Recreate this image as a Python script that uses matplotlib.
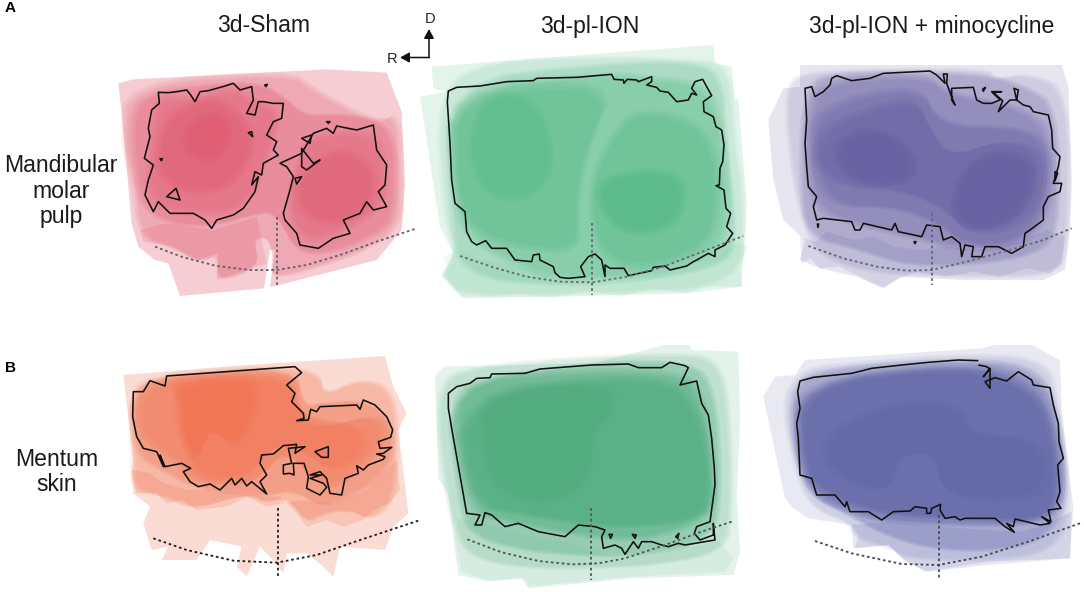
import matplotlib as mpl
import matplotlib.pyplot as plt
import numpy as np
from matplotlib.patches import Polygon

ORIGINS = {"a1": (100, 50), "a2": (420, 30), "a3": (760, 50), "b1": (100, 350), "b2": (425, 345), "b3": (755, 345)}
COLORS = {"a1": "#e0475f", "a2": "#3fb378", "a3": "#5a509a", "b1": "#f26a45", "b2": "#3fa672", "b3": "#545aa2"}
ALPHAS = {
    "a1": [0.27, 0.25, 0.27, 0.27, 0.27, 0.27, 0.27, 0.25],
    "a2": [0.14, 0.14, 0.22, 0.3, 0.3, 0.3, 0.25, 0.35],
    "a3": [0.14, 0.16, 0.25, 0.3, 0.3, 0.3, 0.3, 0.3],
    "b1": [0.23, 0.3, 0.3, 0.3, 0.3, 0.35],
    "b2": [0.14, 0.2, 0.3, 0.4, 0.4, 0.2],
    "b3": [0.13, 0.16, 0.3, 0.45, 0.45, 0.2],
}
MARGIN_ALPHAS = {"a1": 0.16, "a2": 0.08, "a3": 0.12, "b1": 0.2, "b2": 0.08, "b3": 0.14}

COLUMN_TITLES = ["3d-Sham", "3d-pl-ION", "3d-pl-ION + minocycline"]
ROW_LABELS = ["Mandibular\nmolar\npulp", "Mentum\nskin"]
PANEL_LETTERS = ["A", "B"]

LAYERS_A1 = [
    [(55, 100), (100, 88), (680, 58), (860, 68), (905, 185), (915, 400), (905, 540), (830, 630), (510, 712), (525, 600), (510, 600), (492, 715), (240, 738), (205, 640), (165, 630), (115, 590), (95, 520), (65, 190)],
    [(85, 100), (570, 65), (640, 120), (830, 220), (895, 190), (905, 400), (900, 530), (800, 600), (660, 650), (510, 690), (520, 610), (500, 560), (460, 570), (480, 650), (350, 700), (355, 610), (300, 640), (215, 590), (120, 560), (100, 400), (65, 270)],
    [(130, 130), (360, 100), (480, 100), (550, 140), (620, 200), (700, 190), (850, 210), (890, 300), (885, 470), (860, 540), (700, 610), (590, 610), (530, 490), (470, 490), (340, 530), (200, 520), (130, 470), (110, 400), (90, 220)],
    [(170, 140), (290, 150), (400, 110), (470, 160), (540, 180), (520, 270), (490, 350), (460, 440), (390, 490), (280, 490), (190, 480), (140, 420), (150, 280)],
    [(620, 260), (820, 235), (860, 350), (850, 470), (740, 540), (620, 580), (570, 500), (570, 400), (600, 330)],
    [(210, 190), (320, 140), (400, 170), (470, 260), (440, 350), (380, 420), (260, 430), (180, 390), (170, 280)],
    [(630, 350), (720, 290), (810, 340), (830, 420), (790, 490), (680, 530), (600, 480), (590, 410)],
    [(260, 230), (330, 185), (395, 220), (380, 300), (330, 340), (250, 300)],
]
LAYERS_A2 = [
    [(35, 110), (880, 45), (885, 100), (935, 110), (945, 210), (955, 205), (980, 520), (965, 770), (800, 790), (420, 800), (130, 805), (65, 735), (100, 670), (60, 590), (0, 200), (80, 185), (40, 175)],
    [(50, 180), (210, 90), (590, 80), (820, 90), (930, 105), (945, 330), (975, 520), (965, 770), (540, 790), (130, 800), (65, 740), (110, 670), (70, 560)],
    [(75, 155), (560, 100), (800, 95), (905, 130), (920, 320), (950, 600), (930, 700), (700, 750), (430, 770), (120, 740), (90, 540)],
    [(85, 175), (570, 130), (700, 145), (860, 160), (910, 300), (930, 580), (880, 680), (650, 740), (420, 750), (270, 700), (140, 620), (100, 500)],
    [(100, 190), (590, 150), (500, 360), (470, 530), (480, 670), (270, 650), (140, 590), (100, 450)],
    [(650, 230), (880, 290), (900, 560), (840, 670), (620, 725), (520, 640), (510, 470), (560, 340)],
    [(140, 350), (200, 190), (330, 200), (390, 300), (400, 430), (310, 520), (190, 490)],
    [(530, 450), (680, 415), (800, 440), (780, 590), (620, 620), (540, 540)],
]
LAYERS_A3 = [
    [(120, 45), (905, 45), (925, 110), (935, 400), (930, 540), (915, 660), (850, 690), (600, 690), (420, 680), (370, 715), (290, 680), (180, 655), (120, 630), (135, 570), (70, 510), (40, 390), (25, 210), (70, 115), (120, 110)],
    [(130, 60), (690, 55), (700, 90), (800, 70), (930, 120), (925, 600), (880, 680), (600, 680), (340, 670), (180, 620), (130, 530), (90, 330), (75, 120)],
    [(130, 110), (230, 65), (660, 70), (800, 110), (890, 170), (900, 500), (860, 600), (700, 640), (450, 650), (300, 600), (140, 560), (120, 400)],
    [(150, 150), (220, 90), (500, 75), (560, 130), (780, 170), (870, 240), (880, 450), (800, 590), (600, 600), (450, 560), (280, 520), (170, 480), (140, 350)],
    [(170, 170), (480, 100), (540, 230), (770, 230), (870, 280), (860, 470), (780, 580), (620, 590), (540, 520), (400, 470), (210, 470), (150, 320)],
    [(190, 240), (290, 190), (470, 140), (520, 260), (580, 320), (720, 270), (850, 300), (840, 460), (750, 540), (620, 550), (550, 470), (420, 420), (250, 410), (160, 340)],
    [(220, 280), (330, 230), (450, 290), (470, 380), (380, 410), (250, 380)],
    [(570, 460), (620, 340), (730, 300), (830, 340), (800, 470), (720, 530), (620, 540)],
]
LAYERS_B1 = [
    [(70, 75), (440, 45), (855, 18), (880, 110), (920, 190), (895, 240), (925, 490), (880, 530), (855, 600), (720, 590), (700, 680), (670, 650), (620, 610), (560, 610), (550, 670), (510, 620), (480, 590), (440, 680), (410, 650), (425, 590), (330, 570), (290, 630), (185, 630), (205, 590), (155, 600), (130, 520), (150, 470), (100, 430), (95, 370), (100, 330)],
    [(90, 85), (440, 50), (660, 60), (670, 140), (780, 85), (885, 120), (895, 330), (870, 470), (810, 510), (750, 480), (670, 490), (620, 520), (560, 440), (500, 460), (440, 430), (280, 480), (200, 440), (100, 420), (100, 340)],
    [(95, 105), (200, 80), (590, 50), (610, 170), (660, 160), (800, 150), (880, 220), (880, 330), (820, 400), (730, 450), (660, 470), (580, 420), (500, 440), (300, 420), (200, 370), (100, 310)],
    [(100, 140), (200, 85), (580, 55), (600, 190), (650, 240), (830, 190), (870, 260), (800, 340), (700, 420), (640, 390), (560, 300), (480, 380), (440, 400), (290, 400), (240, 340), (120, 270)],
    [(240, 100), (470, 80), (580, 100), (590, 200), (800, 230), (790, 320), (700, 370), (620, 310), (540, 280), (480, 330), (440, 380), (300, 390), (250, 280), (230, 200)],
    [(200, 85), (470, 75), (470, 170), (440, 250), (400, 290), (330, 230), (290, 340), (250, 280), (240, 160)],
]
LAYERS_B2 = [
    [(55, 65), (500, 55), (720, 0), (795, 0), (800, 15), (940, 20), (945, 230), (935, 450), (945, 620), (925, 690), (620, 700), (310, 730), (290, 700), (190, 710), (100, 690), (85, 580), (70, 450), (40, 400), (30, 95)],
    [(30, 140), (120, 60), (790, 20), (890, 60), (915, 230), (920, 500), (900, 620), (700, 660), (500, 670), (300, 670), (140, 640), (90, 560), (60, 430)],
    [(60, 120), (500, 50), (800, 50), (870, 130), (890, 400), (870, 590), (600, 640), (300, 620), (130, 570), (100, 450)],
    [(75, 150), (200, 90), (770, 70), (840, 170), (870, 400), (860, 520), (650, 590), (450, 570), (250, 530), (130, 500)],
    [(90, 150), (700, 80), (830, 200), (860, 450), (820, 530), (550, 550), (300, 510), (140, 480)],
    [(160, 130), (560, 110), (570, 210), (500, 260), (500, 420), (350, 490), (200, 430), (170, 300)],
]
LAYERS_B3 = [
    [(25, 155), (60, 95), (120, 90), (150, 45), (680, 10), (720, 0), (830, 0), (915, 45), (920, 200), (955, 490), (945, 640), (700, 660), (520, 680), (450, 650), (400, 600), (295, 610), (290, 540), (160, 520), (115, 490), (90, 460)],
    [(80, 170), (130, 90), (200, 60), (680, 25), (880, 50), (910, 180), (950, 480), (900, 620), (680, 650), (450, 640), (410, 610), (300, 580), (280, 530), (190, 500), (130, 420)],
    [(110, 130), (200, 70), (650, 40), (860, 70), (920, 240), (940, 480), (860, 590), (700, 620), (520, 610), (390, 570), (280, 510), (160, 450), (110, 300)],
    [(130, 110), (640, 50), (840, 100), (900, 220), (930, 460), (850, 540), (600, 540), (390, 530), (280, 500), (170, 450), (125, 300)],
    [(135, 120), (620, 60), (830, 130), (895, 250), (915, 470), (850, 530), (640, 520), (380, 510), (190, 440), (135, 350)],
    [(240, 250), (420, 170), (620, 180), (640, 270), (860, 280), (880, 450), (700, 470), (560, 440), (540, 320), (430, 330), (400, 450), (260, 400), (200, 330)],
]
LAYERS = {"a1": LAYERS_A1, "a2": LAYERS_A2, "a3": LAYERS_A3, "b1": LAYERS_B1, "b2": LAYERS_B2, "b3": LAYERS_B3}

# blotchy stains along the lower margin of each panel
MARGINS = {
    "a1": [(120, 540), (200, 520), (340, 540), (470, 500), (500, 640), (350, 690), (355, 610), (290, 630), (215, 590), (130, 575)],
    "a2": [(70, 680), (110, 660), (180, 690), (260, 700), (360, 730), (450, 760), (560, 760), (700, 730), (850, 680), (960, 640), (985, 650), (960, 700), (965, 770), (860, 770), (790, 790), (700, 775), (600, 800), (500, 780), (400, 805), (300, 790), (200, 800), (120, 800), (90, 760), (65, 740), (85, 710)],
    "a3": [(120, 560), (165, 575), (200, 545), (280, 570), (340, 560), (400, 590), (480, 600), (560, 590), (650, 600), (760, 580), (860, 540), (915, 560), (905, 640), (870, 670), (800, 655), (720, 680), (640, 665), (560, 680), (470, 665), (420, 685), (370, 712), (340, 700), (300, 680), (240, 650), (180, 655), (150, 625), (125, 640)],
    "b1": [(95, 360), (150, 370), (190, 400), (260, 420), (330, 420), (420, 430), (500, 440), (540, 440), (590, 490), (620, 530), (680, 510), (730, 530), (790, 510), (810, 490), (840, 470), (870, 460), (900, 420), (890, 330), (800, 420), (700, 460), (600, 450), (500, 470), (440, 440), (380, 470), (290, 480), (250, 450), (200, 460), (170, 430), (110, 430)],
    "b2": [(100, 520), (200, 540), (300, 570), (420, 590), (560, 630), (720, 620), (880, 590), (925, 640), (900, 680), (620, 695), (310, 725), (300, 700), (190, 705), (110, 680), (90, 580)],
    "b3": [(290, 540), (400, 530), (500, 540), (620, 550), (800, 560), (870, 540), (950, 500), (945, 640), (700, 650), (510, 680), (450, 645), (400, 600), (300, 610), (310, 570)],
}

# closed outlines, small ones are the specks next to the main contour
OUTLINES_A1 = [
    [(175, 127), (205, 128), (230, 125), (260, 120), (272, 135), (285, 155), (300, 125), (325, 122), (350, 115), (375, 108), (400, 100), (420, 120), (455, 110), (460, 150), (440, 190), (465, 195), (475, 155), (490, 155), (520, 160), (550, 160), (545, 205), (520, 215), (500, 255), (530, 275), (520, 300), (535, 315), (490, 340), (485, 375), (465, 365), (455, 405), (475, 380), (465, 425), (430, 475), (400, 495), (350, 510), (335, 535), (315, 510), (280, 490), (210, 490), (175, 455), (160, 485), (135, 435), (145, 390), (160, 345), (133, 325), (150, 260), (145, 235), (155, 180), (178, 160)],
    [(540, 340), (605, 310), (640, 250), (680, 235), (700, 250), (710, 228), (770, 240), (820, 225), (830, 300), (860, 345), (855, 405), (835, 425), (860, 470), (820, 480), (800, 455), (780, 490), (730, 510), (750, 550), (700, 565), (655, 595), (600, 585), (590, 550), (555, 510), (550, 490), (570, 420), (580, 380), (560, 350)],
    [(200, 440), (228, 415), (240, 450)],
    [(605, 295), (640, 340), (660, 330), (620, 360), (605, 350)],
    [(585, 385), (605, 380), (590, 402)],
    [(605, 265), (635, 255), (630, 280)],
    [(445, 248), (455, 245), (458, 260)],
    [(180, 326), (187, 326), (184, 332)],
    [(494, 105), (502, 103), (498, 110)],
    [(680, 215), (690, 215), (685, 220)],
]
OUTLINES_A2 = [
    [(85, 183), (110, 172), (180, 168), (260, 155), (340, 152), (350, 145), (470, 142), (575, 133), (582, 148), (610, 150), (612, 160), (622, 148), (650, 150), (655, 155), (695, 140), (695, 155), (680, 165), (710, 172), (720, 183), (745, 187), (770, 215), (805, 210), (815, 190), (830, 195), (815, 175), (825, 155), (848, 148), (875, 197), (850, 215), (852, 245), (880, 260), (888, 290), (905, 300), (912, 345), (908, 395), (900, 415), (898, 465), (888, 467), (912, 480), (918, 535), (932, 550), (920, 590), (938, 610), (915, 645), (885, 660), (885, 680), (865, 670), (830, 690), (820, 695), (800, 708), (750, 720), (735, 708), (700, 712), (695, 722), (625, 737), (612, 715), (570, 715), (555, 705), (555, 740), (545, 690), (525, 672), (505, 680), (482, 710), (495, 740), (445, 745), (420, 742), (405, 728), (400, 710), (360, 690), (358, 672), (340, 675), (335, 695), (285, 690), (260, 655), (215, 655), (197, 632), (170, 645), (155, 635), (140, 605), (135, 545), (105, 520), (95, 450), (90, 340), (82, 215)],
]
OUTLINES_A3 = [
    [(135, 115), (155, 110), (165, 140), (190, 125), (210, 105), (215, 85), (230, 77), (275, 92), (330, 85), (370, 70), (510, 63), (530, 75), (555, 100), (550, 72), (562, 72), (560, 100), (575, 140), (585, 165), (575, 150), (575, 115), (640, 112), (650, 150), (670, 160), (695, 160), (720, 150), (695, 125), (725, 125), (700, 128), (728, 152), (715, 185), (750, 150), (770, 150), (762, 115), (775, 120), (770, 150), (790, 165), (810, 170), (820, 185), (865, 195), (875, 240), (878, 295), (900, 320), (895, 350), (880, 400), (905, 400), (900, 425), (865, 440), (850, 470), (850, 510), (810, 540), (795, 550), (790, 590), (755, 610), (715, 590), (675, 590), (665, 620), (635, 620), (640, 590), (615, 585), (605, 620), (600, 580), (575, 560), (550, 570), (540, 530), (500, 525), (485, 560), (415, 545), (405, 520), (395, 540), (310, 520), (300, 540), (285, 540), (275, 515), (190, 505), (170, 510), (160, 470), (170, 440), (145, 410), (140, 350), (135, 280), (140, 210)],
    [(885, 365), (893, 370), (885, 392)],
    [(462, 575), (468, 575), (465, 581)],
    [(172, 522), (176, 522), (174, 532)],
    [(668, 118), (676, 112), (670, 124)],
]
OUTLINES_B1 = [
    [(100, 125), (130, 125), (150, 92), (195, 108), (200, 78), (585, 50), (605, 68), (560, 105), (585, 130), (575, 155), (610, 190), (612, 205), (590, 212), (625, 210), (632, 178), (650, 185), (660, 170), (770, 165), (780, 178), (790, 150), (825, 165), (860, 200), (878, 240), (872, 262), (835, 275), (840, 295), (875, 292), (850, 310), (830, 312), (855, 320), (850, 328), (805, 345), (790, 360), (770, 347), (775, 370), (735, 385), (725, 435), (690, 430), (680, 385), (660, 365), (630, 375), (665, 375), (630, 385), (670, 400), (680, 412), (660, 435), (620, 415), (625, 380), (612, 340), (580, 340), (582, 375), (570, 370), (550, 372), (550, 345), (575, 340), (565, 295), (615, 290), (585, 310), (590, 283), (550, 287), (520, 312), (485, 315), (480, 340), (500, 375), (480, 395), (500, 432), (455, 395), (440, 408), (425, 385), (405, 405), (395, 385), (360, 420), (330, 402), (295, 410), (270, 395), (250, 365), (272, 355), (245, 340), (195, 350), (180, 315), (190, 350), (170, 305), (130, 295), (110, 260), (98, 200)],
    [(645, 305), (685, 290), (685, 322), (665, 322)],
]
OUTLINES_B2 = [
    [(70, 145), (95, 125), (135, 115), (155, 100), (195, 98), (200, 87), (300, 85), (345, 72), (500, 60), (610, 57), (640, 68), (710, 68), (735, 52), (780, 62), (790, 68), (765, 120), (815, 108), (830, 175), (850, 210), (860, 280), (868, 370), (870, 420), (855, 530), (815, 545), (808, 565), (825, 585), (865, 570), (865, 535), (870, 585), (780, 600), (760, 595), (730, 605), (710, 600), (680, 590), (650, 590), (640, 610), (625, 590), (600, 628), (590, 610), (570, 600), (535, 610), (530, 575), (540, 555), (510, 545), (460, 540), (420, 575), (340, 560), (280, 535), (240, 545), (200, 510), (180, 503), (170, 540), (150, 540), (165, 510), (125, 505), (118, 465), (80, 250), (70, 190)],
    [(552, 568), (562, 568), (557, 580)],
    [(752, 575), (762, 565), (758, 580)],
    [(622, 568), (634, 570), (630, 580)],
]
# B3 has a gap in the top edge, so it stays an open line
OUTLINES_B3 = [
    [(670, 60), (695, 65), (705, 72), (685, 95), (705, 70), (705, 130), (690, 110), (720, 98), (755, 108), (790, 80), (830, 105), (835, 120), (885, 128), (895, 180), (910, 235), (912, 290), (925, 340), (908, 360), (915, 440), (905, 470), (918, 490), (880, 495), (888, 530), (860, 515), (885, 535), (855, 540), (780, 522), (775, 545), (755, 535), (778, 562), (750, 545), (720, 520), (630, 520), (615, 525), (600, 515), (570, 520), (555, 495), (557, 478), (530, 490), (527, 505), (515, 505), (515, 490), (480, 485), (465, 498), (415, 500), (380, 525), (340, 500), (285, 500), (275, 470), (270, 485), (240, 450), (185, 450), (170, 400), (135, 390), (130, 280), (125, 235), (135, 190), (128, 140), (135, 108), (175, 97), (290, 85), (350, 70), (440, 60), (520, 52), (610, 45), (670, 47)],
]
OUTLINES = {"a1": OUTLINES_A1, "a2": OUTLINES_A2, "a3": OUTLINES_A3, "b1": OUTLINES_B1, "b2": OUTLINES_B2, "b3": OUTLINES_B3}

ARC_A1 = [(165, 590), (250, 622), (350, 648), (450, 660), (530, 660), (620, 645), (720, 615), (830, 575), (950, 535)]
ARC_A2 = [(120, 678), (220, 712), (320, 740), (420, 755), (520, 757), (620, 740), (730, 710), (860, 660), (970, 618)]
ARC_A3 = [(145, 588), (250, 625), (350, 650), (440, 662), (515, 660), (620, 635), (750, 600), (850, 570), (935, 535)]
ARC_B1 = [(160, 565), (260, 600), (400, 632), (530, 638), (650, 615), (780, 570), (955, 512)]
ARC_B2 = [(127, 583), (230, 622), (340, 648), (440, 658), (520, 655), (600, 640), (720, 600), (830, 560), (920, 530)]
ARC_B3 = [(180, 588), (290, 625), (440, 657), (550, 660), (680, 635), (820, 590), (975, 535)]
ARCS = {"a1": ARC_A1, "a2": ARC_A2, "a3": ARC_A3, "b1": ARC_B1, "b2": ARC_B2, "b3": ARC_B3}
MIDLINES = {
    "a1": [(532, 500), (532, 710)],
    "a2": [(517, 580), (517, 795)],
    "a3": [(516, 490), (516, 705)],
    "b1": [(533, 475), (533, 685)],
    "b2": [(498, 490), (498, 705)],
    "b3": [(551, 510), (551, 705)],
}
ARC_COLORS = {"a1": "#66626a", "a2": "#666c70", "a3": "#66667a", "b1": "#222222", "b2": "#4e5a58", "b3": "#4a4a55"}


def to_px(key, points):
    ox, oy = ORIGINS[key]
    return np.asarray(points, dtype=float) / 3 + (ox, oy)


def round_corners(xy, passes=2):
    # corner cutting, the stains have no sharp corners
    for _ in range(passes):
        nxt = np.roll(xy, -1, axis=0)
        xy = np.stack([0.75 * xy + 0.25 * nxt, 0.25 * xy + 0.75 * nxt], axis=1).reshape(-1, 2)
    return xy


def draw_layer(ax, xy, color, alpha, step_px, steps=4):
    # soft edge: copies around the traced size that share the layer's alpha
    centre = xy.mean(axis=0)
    radius = np.linalg.norm(xy - centre, axis=1).mean()
    part = 1 - (1 - alpha) ** (1 / steps)
    for k in range(steps):
        scale = 1 + ((steps - 1) / 2 - k) * step_px / radius
        ax.add_patch(Polygon(centre + (xy - centre) * scale, closed=True, fc=color, ec="none", alpha=part))


def draw_panel(ax, key):
    color = COLORS[key]
    for i, (poly, alpha) in enumerate(zip(LAYERS[key], ALPHAS[key])):
        xy = to_px(key, poly)
        if i == 0:
            ax.add_patch(Polygon(xy, closed=True, fc=color, ec="none", alpha=alpha))
            ax.add_patch(Polygon(to_px(key, MARGINS[key]), closed=True, fc=color, ec="none", alpha=MARGIN_ALPHAS[key]))
        else:
            draw_layer(ax, round_corners(xy), color, alpha, 1.5 if i < 3 else 2.5)
    for pts in (ARCS[key], MIDLINES[key]):
        xy = to_px(key, pts)
        ax.plot(xy[:, 0], xy[:, 1], color=ARC_COLORS[key], lw=1.35, ls=(0, (1.4, 1.5)), dash_capstyle="butt")
    for line in OUTLINES[key]:
        ax.add_patch(Polygon(to_px(key, line), closed=key != "b3" or len(line) < 10, fc="none", ec="#111111", lw=1.15, joinstyle="round"))


def main():
    mpl.rcParams["font.family"] = ["Liberation Sans", "DejaVu Sans"]
    fig = plt.figure(figsize=(10.84, 5.92), dpi=100)
    ax = fig.add_axes([0, 0, 1, 1])
    ax.set_xlim(0, 1084)
    ax.set_ylim(592, 0)
    ax.axis("off")

    for key in ORIGINS:
        draw_panel(ax, key)

    for title, x in zip(COLUMN_TITLES, [264, 590, 932]):
        ax.text(x, 26, title, ha="center", va="center", fontsize=16.6, color="#1a1a1a")
    for label, x, y in zip(ROW_LABELS, [61, 57], [191, 472]):
        ax.text(x, y, label, ha="center", va="center", fontsize=16.6, color="#1a1a1a", linespacing=1.16)
    for letter, y in zip(PANEL_LETTERS, [8, 368]):
        ax.text(10, y, letter, ha="center", va="center", fontsize=11, fontweight="bold")

    arrow = dict(arrowstyle="-|>,head_length=0.55,head_width=0.3", color="#111111", lw=1.1, shrinkA=0, shrinkB=0)
    ax.annotate("", xy=(429, 29), xytext=(429, 57.5), arrowprops=arrow)
    ax.annotate("", xy=(400, 57.5), xytext=(429.5, 57.5), arrowprops=arrow)
    ax.text(430, 19, "D", ha="center", va="center", fontsize=10.5, color="#222222")
    ax.text(392, 59, "R", ha="center", va="center", fontsize=10.5, color="#222222")

    fig.savefig("out.png", dpi=100)


if __name__ == "__main__":
    main()
